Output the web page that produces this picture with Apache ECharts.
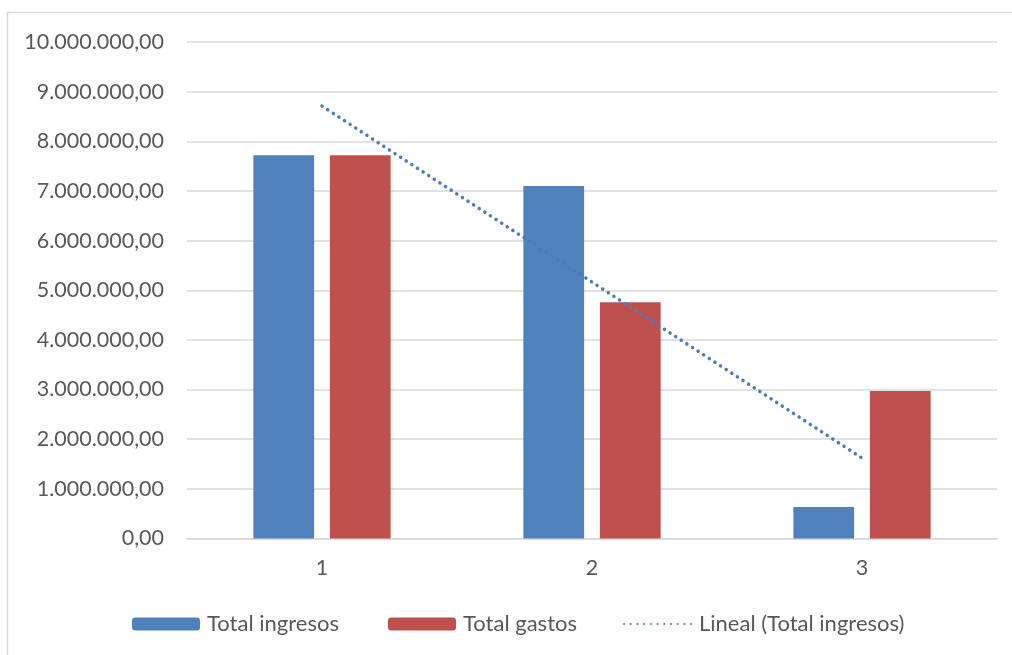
<!DOCTYPE html>
<html>
<head>
<meta charset="utf-8">
<script src="https://cdn.jsdelivr.net/npm/echarts@6/dist/echarts.min.js"></script>
<style>
  html, body { margin: 0; padding: 0; background: #fff; }
  #chart { width: 1012px; height: 655px; }
</style>
</head>
<body>
<div id="chart"></div>
<script>
// Periods shown on the category axis
const categories = ['1', '2', '3'];
// Yearly totals
const totalIngresos = [7720000, 7100000, 634000];
const totalGastos = [7720000, 4760000, 2970000];
// Linear trend of Total ingresos at each period
const linealIngresos = [8710000, 5165000, 1620000];
// Value axis range
const yMin = 0;
const yMax = 10000000;
const yStep = 1000000;

const textColor = '#595959';
const fontFamily = 'Lato, "Open Sans", sans-serif';

function formatEs(v) {
  const parts = v.toFixed(2).split('.');
  const int = parts[0].replace(/\B(?=(\d{3})+(?!\d))/g, '.');
  return int + ',' + parts[1];
}

const chart = echarts.init(document.getElementById('chart'), null, { renderer: 'canvas' });

const legendBase = {
  top: 613,
  padding: 0,
  itemWidth: 68,
  itemHeight: 13,
  textStyle: {
    color: textColor, fontSize: 22, fontFamily: fontFamily,
    padding: [0, 0, 0, 2]
  }
};

chart.setOption({
  backgroundColor: '#ffffff',
  animation: false,
  graphic: [{
    type: 'rect',
    shape: { x: 7.5, y: 12.5, width: 1010, height: 650 },
    style: { fill: 'none', stroke: '#d9d9d9', lineWidth: 1.5 },
    silent: true
  }],
  grid: { left: 187, right: 15, top: 42, bottom: 116.5 },
  legend: [
    Object.assign({ left: 132, data: ['Total ingresos'] }, legendBase),
    Object.assign({ left: 388, data: ['Total gastos'] }, legendBase),
    Object.assign({
      left: 623,
      data: [{ name: 'Lineal (Total ingresos)', itemStyle: { opacity: 0 } }]
    }, legendBase)
  ],
  xAxis: {
    type: 'category',
    data: categories,
    axisLine: { lineStyle: { color: '#d9d9d9', width: 1.5 } },
    axisTick: { show: false },
    axisLabel: { color: textColor, fontSize: 21.5, fontFamily: fontFamily, margin: 19 }
  },
  yAxis: {
    type: 'value',
    min: yMin,
    max: yMax,
    interval: yStep,
    axisLine: { show: false },
    axisTick: { show: false },
    splitLine: { lineStyle: { color: '#d9d9d9', width: 1.5 } },
    axisLabel: {
      color: textColor, fontSize: 21.5, fontFamily: fontFamily, margin: 23,
      formatter: formatEs
    }
  },
  series: [
    {
      name: 'Total ingresos',
      type: 'bar',
      data: totalIngresos,
      barWidth: '22.5%',
      barGap: '26%',
      itemStyle: { color: '#4f81bd' }
    },
    {
      name: 'Total gastos',
      type: 'bar',
      data: totalGastos,
      barWidth: '22.5%',
      barGap: '26%',
      itemStyle: { color: '#c0504d' }
    },
    {
      name: 'Lineal (Total ingresos)',
      type: 'line',
      data: linealIngresos,
      symbol: 'none',
      z: 5,
      itemStyle: { color: '#4a7ebb' },
      lineStyle: { color: '#4a7ebb', width: 3.5, type: [0.1, 6.6], cap: 'round' }
    }
  ]
});
</script>
</body>
</html>
